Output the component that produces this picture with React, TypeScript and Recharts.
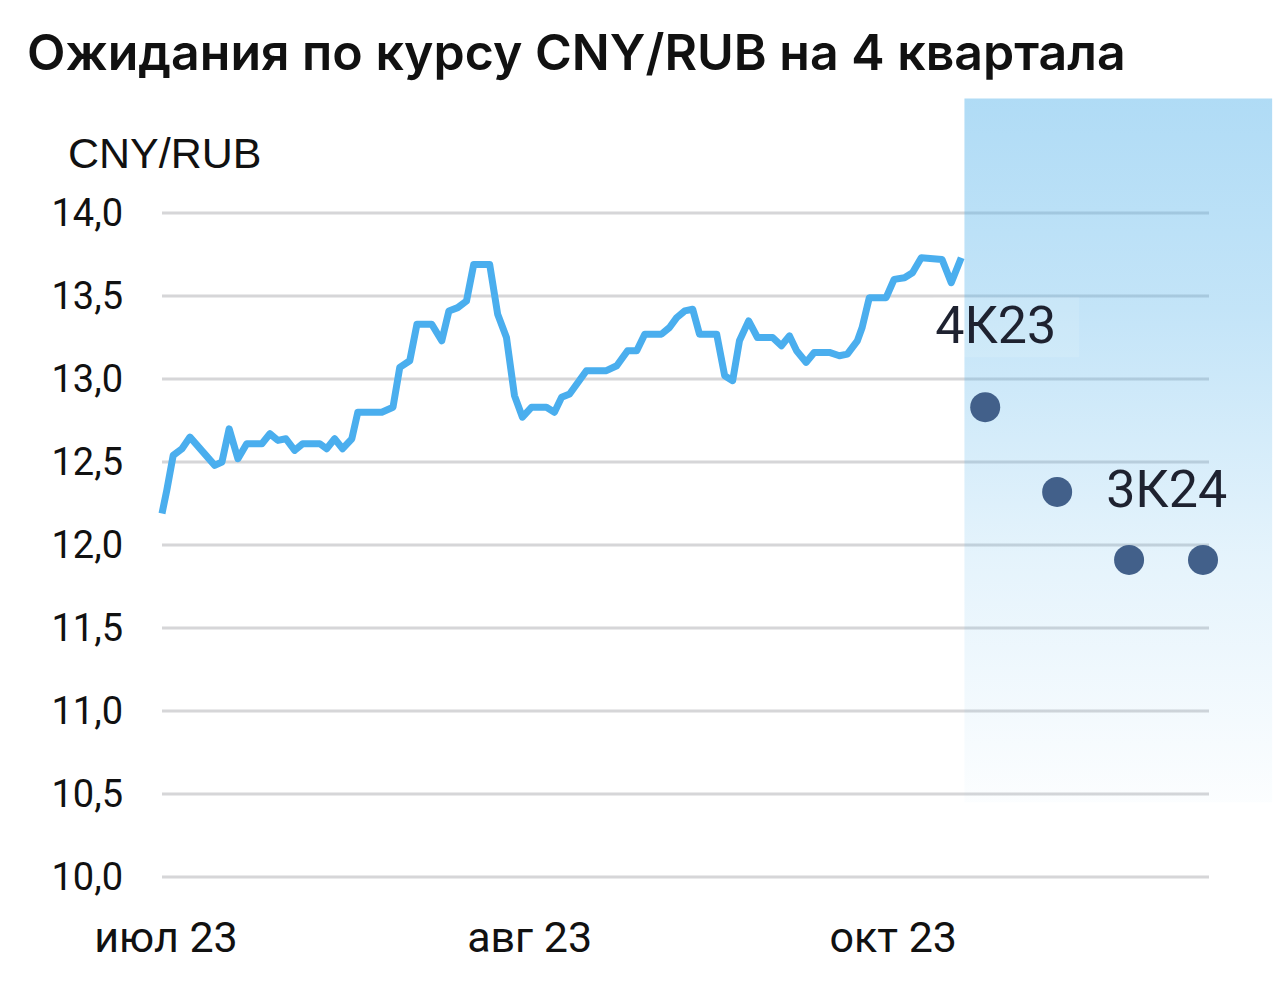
import {
  CartesianGrid,
  ComposedChart,
  Line,
  ReferenceArea,
  Scatter,
  XAxis,
  YAxis,
} from 'recharts'

// spot CNY/RUB (day index, rate)
const spotDays = [
  0, 0.6, 1.4, 2.5, 3.5, 6.6, 7.5, 8.4, 9.5, 10.6, 12.5, 13.5, 14.5, 15.5, 16.6,
  17.6, 19.75, 20.6, 21.6, 22.6, 23.75, 24.5, 27.5, 28.9, 29.75, 31, 31.9, 33.75,
  35, 35.9, 37, 38.1, 39, 41, 42, 43.1, 44.1, 45.1, 46.25, 48.1, 49.1, 50, 51,
  53.1, 55.6, 56.9, 58.25, 59.4, 60.4, 62.5, 63.5, 64.4, 65.4, 66.4, 67.25, 69.4,
  70.4, 71.4, 72.25, 73.4, 74.5, 76.4, 77.5, 78.5, 79.4, 80.6, 81.6, 83.5, 84.75,
  85.75, 87, 87.6, 88.5, 90.6, 91.6, 92.9, 93.9, 95, 97.6, 98.75, 100,
]
const spotRates = [
  12.19, 12.33, 12.54, 12.58, 12.65, 12.48, 12.5, 12.7, 12.52, 12.61, 12.61, 12.67,
  12.63, 12.64, 12.57, 12.61, 12.61, 12.58, 12.64, 12.58, 12.64, 12.8, 12.8, 12.83,
  13.07, 13.11, 13.33, 13.33, 13.23, 13.41, 13.43, 13.47, 13.69, 13.69, 13.39,
  13.25, 12.9, 12.77, 12.83, 12.83, 12.8, 12.89, 12.91, 13.05, 13.05, 13.08, 13.17,
  13.17, 13.27, 13.27, 13.31, 13.37, 13.41, 13.42, 13.27, 13.27, 13.02, 12.99,
  13.23, 13.35, 13.25, 13.25, 13.2, 13.26, 13.17, 13.1, 13.16, 13.16, 13.14, 13.15,
  13.23, 13.31, 13.49, 13.49, 13.6, 13.61, 13.64, 13.73, 13.72, 13.58, 13.73,
]

// quarterly expectations
const forecastDays = [103, 112, 121, 130.25]
const forecastRates = [12.83, 12.32, 11.91, 11.91]
const forecastLabels = ['4К23', '3К24', '', '']

const xTicks = [0.5, 46, 91.5]
const xTickLabels = ['июл 23', 'авг 23', 'окт 23']
const yTicks = [10, 10.5, 11, 11.5, 12, 12.5, 13, 13.5, 14]

// shaded forecast zone (in data units)
const zoneDays = [100.4, 138.9]
const zoneRates = [10.45, 14.69]

const spot = spotDays.map((day, i) => ({ day, rate: spotRates[i] }))
const forecast = forecastDays.map((day, i) => ({
  day,
  rate: forecastRates[i],
  label: forecastLabels[i],
}))

const FONT = 'Roboto, "Noto Sans", sans-serif'

function ForecastDot(props: any) {
  const { cx, cy, payload, index } = props
  const first = index === 0
  return (
    <g>
      {first && payload.label && (
        <rect x={cx - 52} y={cy - 110} width={146} height={60} fill="#ffffff" fillOpacity={0.12} />
      )}
      <circle cx={cx} cy={cy} r={15} fill="#42608a" />
      {payload.label && (
        <text
          x={first ? cx - 50 : cx + 49}
          y={first ? cy - 64 : cy + 15}
          fontSize={52}
          fontFamily={FONT}
          fill="#1e2230"
        >
          {payload.label}
        </text>
      )}
    </g>
  )
}

export default function App() {
  return (
    <div
      style={{
        position: 'absolute',
        left: 0,
        top: 0,
        width: 1284,
        height: 996,
        background: '#fff',
        fontFamily: FONT,
      }}
    >
      <div
        style={{
          position: 'absolute',
          left: 27,
          top: 27,
          fontSize: 50,
          lineHeight: '50px',
          fontWeight: 600,
          fontFamily: 'Inter, sans-serif',
          color: '#111',
          whiteSpace: 'nowrap',
        }}
      >
        Ожидания по курсу CNY/RUB на 4 квартала
      </div>
      <div
        style={{
          position: 'absolute',
          left: 68,
          top: 132,
          fontSize: 43,
          lineHeight: '43px',
          fontFamily: '"Liberation Sans", Arial, sans-serif',
          color: '#111',
          whiteSpace: 'nowrap',
        }}
      >
        CNY/RUB
      </div>
      <ComposedChart
        width={1284}
        height={996}
        margin={{ top: 213, right: 75, bottom: 59, left: 32 }}
        style={{ position: 'absolute', left: 0, top: 0 }}
      >
        <defs>
          <linearGradient id="zoneFill" x1="0" y1="0" x2="0" y2="1">
            <stop offset="0%" stopColor="#4fb0ea" stopOpacity={0.45} />
            <stop offset="30%" stopColor="#4fb0ea" stopOpacity={0.34} />
            <stop offset="65%" stopColor="#4fb0ea" stopOpacity={0.15} />
            <stop offset="100%" stopColor="#4fb0ea" stopOpacity={0.02} />
          </linearGradient>
        </defs>
        <CartesianGrid vertical={false} stroke="#d6d6d8" strokeWidth={3} />
        <XAxis
          dataKey="day"
          type="number"
          domain={[0, 131]}
          ticks={xTicks}
          tickFormatter={(v: number) => xTickLabels[xTicks.indexOf(v)] ?? ''}
          axisLine={false}
          tickLine={false}
          tickSize={0}
          tickMargin={44}
          height={60}
          interval={0}
          tick={{ fontSize: 43, fill: '#111', fontFamily: FONT }}
        />
        <YAxis
          domain={[10, 14]}
          ticks={yTicks}
          tickFormatter={(v: number) => v.toFixed(1).replace('.', ',')}
          axisLine={false}
          tickLine={false}
          tickSize={0}
          tickMargin={39}
          width={130}
          interval={0}
          tick={{ fontSize: 38, fill: '#111', fontFamily: FONT }}
        />
        <ReferenceArea
          x1={zoneDays[0]}
          x2={zoneDays[1]}
          y1={zoneRates[0]}
          y2={zoneRates[1]}
          ifOverflow="visible"
          fill="url(#zoneFill)"
          fillOpacity={1}
          stroke="none"
        />
        <Line
          data={spot}
          dataKey="rate"
          type="linear"
          stroke="#4aaeee"
          strokeWidth={7}
          strokeLinejoin="round"
          dot={false}
          activeDot={false}
          isAnimationActive={false}
        />
        <Scatter
          data={forecast}
          dataKey="rate"
          shape={ForecastDot}
          isAnimationActive={false}
        />
      </ComposedChart>
    </div>
  )
}
